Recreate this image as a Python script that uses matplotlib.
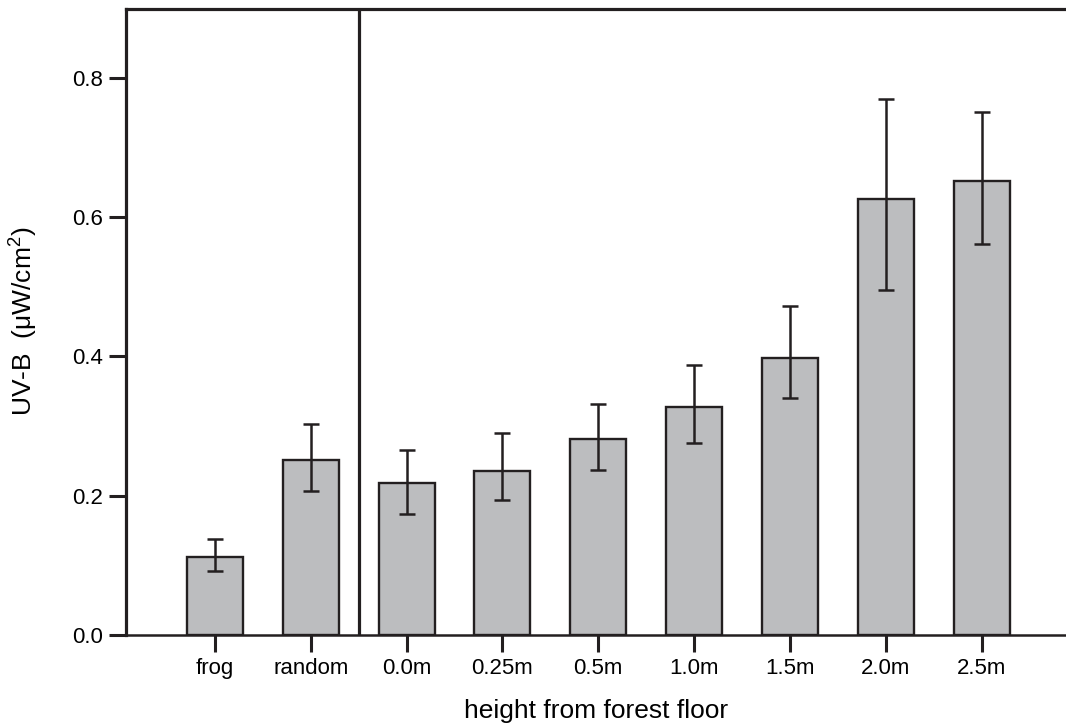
import matplotlib
matplotlib.use("Agg")
import matplotlib.pyplot as plt
import numpy as np

plt.rcParams['font.family'] = ['Liberation Sans', 'DejaVu Sans']
plt.rcParams['mathtext.fontset'] = 'custom'
plt.rcParams['mathtext.rm'] = 'Liberation Sans'

# values
labels = ['frog', 'random', '0.0m', '0.25m', '0.5m', '1.0m', '1.5m', '2.0m', '2.5m']
means = [0.112, 0.251, 0.218, 0.236, 0.282, 0.327, 0.398, 0.627, 0.652]
err_hi = [0.138, 0.303, 0.265, 0.290, 0.332, 0.388, 0.473, 0.770, 0.751]
err_lo = [0.092, 0.206, 0.174, 0.194, 0.237, 0.276, 0.340, 0.495, 0.561]

ink = '#231f20'
x = np.arange(len(labels))
means_a = np.array(means)
yerr = [means_a - np.array(err_lo), np.array(err_hi) - means_a]

fig = plt.figure(figsize=(10.66, 7.27), dpi=100)
ax = fig.add_axes([0.118, 0.127, 0.882, 0.861])

ax.bar(x, means, width=0.585, color='#bcbdbf', edgecolor=ink, linewidth=1.7, zorder=2)
ax.errorbar(x, means, yerr=yerr, fmt='none', ecolor=ink, elinewidth=1.8,
            capsize=5.5, capthick=1.8, zorder=3)

# divider between frog/random and the height series
ax.axvline(1.5, color=ink, linewidth=2.3, zorder=4)

ax.set_xlim(-0.93, 8.88)
ax.set_ylim(0, 0.9)
ax.set_xticks(x)
ax.set_xticklabels(labels)
ax.set_yticks([0.0, 0.2, 0.4, 0.6, 0.8])
ax.set_yticklabels(['0.0', '0.2', '0.4', '0.6', '0.8'])

ax.spines['right'].set_visible(False)
for s in ['left', 'top']:
    ax.spines[s].set_linewidth(2.3)
    ax.spines[s].set_color(ink)
ax.spines['bottom'].set_linewidth(1.8)
ax.spines['bottom'].set_color(ink)

ax.tick_params(axis='both', direction='out', length=12.5, width=2.2, color=ink,
               labelsize=16, labelcolor='black', pad=4)

ax.set_xlabel('height from forest floor', fontsize=19, labelpad=15)
ax.set_ylabel(r'UV-B  ($\mathrm{\mu}$W/cm$^2$)', fontsize=19, labelpad=24)

fig.savefig('out.png', dpi=100)
